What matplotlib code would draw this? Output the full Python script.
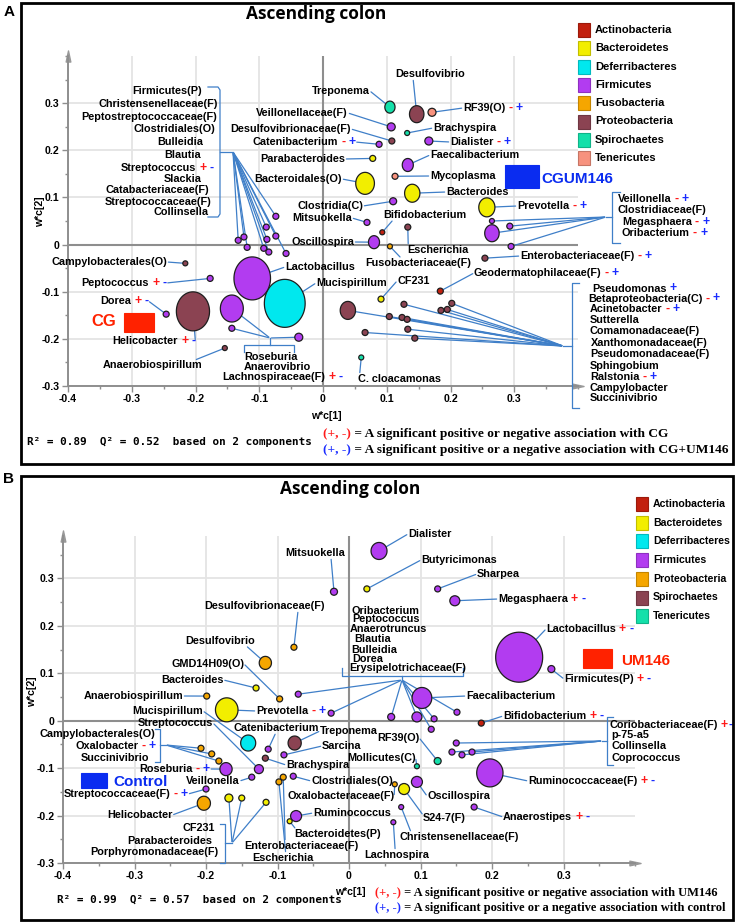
import numpy as np
import matplotlib
matplotlib.use('Agg')
import matplotlib.pyplot as plt
import matplotlib.colors as mcolors
from matplotlib.transforms import Affine2D
from matplotlib.patches import Rectangle
from matplotlib.path import Path
from matplotlib.ticker import MultipleLocator

plt.rcParams['font.family'] = ['Liberation Sans', 'DejaVu Sans']

# ====================== DATA : panel A ======================
A_phyla = ['Actinobacteria', 'Bacteroidetes', 'Deferribacteres', 'Firmicutes',
           'Fusobacteria', 'Proteobacteria', 'Spirochaetes', 'Tenericutes']
A_names = ['Treponema', 'Desulfovibrio', 'RF39(O)', 'Veillonellaceae(F)', 'Brachyspira',
           'Desulfovibrionaceae(F)', 'Catenibacterium', 'Dialister', 'Parabacteroides', 'Faecalibacterium',
           'Mycoplasma', 'Bacteroidales(O)', 'Bacteroides', 'Clostridia(C)', 'Mitsuokella',
           'Bifidobacterium', 'Oscillospira', 'Escherichia', 'Fusobacteriaceae(F)', 'CF231',
           'Prevotella', 'Veillonella', 'Clostridiaceae(F)', 'Megasphaera', 'Oribacterium',
           'Enterobacteriaceae(F)', 'Geodermatophilaceae(F)', 'Pseudomonas', 'Betaproteobacteria(C)', 'Acinetobacter',
           'Sutterella', 'Comamonadaceae(F)', 'Xanthomonadaceae(F)', 'Pseudomonadaceae(F)', 'Sphingobium',
           'Ralstonia', 'Campylobacter', 'Succinivibrio', 'C. cloacamonas', 'Lactobacillus',
           'Mucispirillum', 'Helicobacter', 'Roseburia', 'Anaerovibrio', 'Lachnospiraceae(F)',
           'Anaerobiospirillum', 'Dorea', 'Peptococcus', 'Campylobacterales(O)', 'Firmicutes(P)',
           'Christensenellaceae(F)', 'Peptostreptococcaceae(F)', 'Clostridiales(O)', 'Bulleidia', 'Blautia',
           'Streptococcus', 'Slackia', 'Catabacteriaceae(F)', 'Streptococcaceae(F)']
A_x = [0.105, 0.147, 0.171, 0.107, 0.132,
       0.108, 0.088, 0.166, 0.078, 0.133,
       0.113, 0.066, 0.140, 0.110, 0.069,
       0.093, 0.080, 0.133, 0.105, 0.091,
       0.257, 0.265, 0.293, 0.265, 0.295,
       0.254, 0.184, 0.202, 0.127, 0.195,
       0.185, 0.104, 0.124, 0.132, 0.039,
       0.133, 0.066, 0.144, 0.060, -0.111,
       -0.060, -0.204, -0.143, -0.143, -0.038,
       -0.154, -0.246, -0.177, -0.216, -0.074,
       -0.089, -0.133, -0.124, -0.119, -0.088,
       -0.074, -0.093, -0.085, -0.058]
A_y = [0.292, 0.277, 0.281, 0.250, 0.237,
       0.220, 0.213, 0.220, 0.183, 0.169,
       0.145, 0.130, 0.109, 0.092, 0.047,
       0.026, 0.005, 0.037, -0.004, -0.116,
       0.079, 0.050, 0.039, 0.024, -0.004,
       -0.029, -0.099, -0.125, -0.127, -0.138,
       -0.140, -0.153, -0.155, -0.159, -0.140,
       -0.180, -0.187, -0.199, -0.240, -0.072,
       -0.125, -0.142, -0.136, -0.178, -0.197,
       -0.220, -0.148, -0.072, -0.040, 0.060,
       0.037, 0.009, 0.016, -0.006, 0.011,
       0.018, -0.008, -0.016, -0.019]
A_bubble = [12, 17, 8, 8, 5,
            6, 6, 8, 6, 13,
            6, 22, 18, 7, 6,
            5, 13, 6, 5, 6,
            19, 5, 6, 17, 6,
            6, 6, 6, 6, 6,
            6, 6, 6, 6, 18,
            6, 6, 6, 5, 43,
            48, 39, 27, 6, 8,
            5, 6, 6, 5, 6,
            6, 6, 6, 6, 6,
            6, 6, 6, 6]
A_phylum = ['Spirochaetes', 'Proteobacteria', 'Tenericutes', 'Firmicutes', 'Spirochaetes',
            'Proteobacteria', 'Firmicutes', 'Firmicutes', 'Bacteroidetes', 'Firmicutes',
            'Tenericutes', 'Bacteroidetes', 'Bacteroidetes', 'Firmicutes', 'Firmicutes',
            'Actinobacteria', 'Firmicutes', 'Proteobacteria', 'Fusobacteria', 'Bacteroidetes',
            'Bacteroidetes', 'Firmicutes', 'Firmicutes', 'Firmicutes', 'Firmicutes',
            'Proteobacteria', 'Actinobacteria', 'Proteobacteria', 'Proteobacteria', 'Proteobacteria',
            'Proteobacteria', 'Proteobacteria', 'Proteobacteria', 'Proteobacteria', 'Proteobacteria',
            'Proteobacteria', 'Proteobacteria', 'Proteobacteria', 'Spirochaetes', 'Firmicutes',
            'Deferribacteres', 'Proteobacteria', 'Firmicutes', 'Firmicutes', 'Firmicutes',
            'Proteobacteria', 'Firmicutes', 'Firmicutes', 'Proteobacteria', 'Firmicutes',
            'Firmicutes', 'Firmicutes', 'Firmicutes', 'Firmicutes', 'Firmicutes',
            'Firmicutes', 'Firmicutes', 'Firmicutes', 'Firmicutes']
A_xticks = [-0.4, -0.3, -0.2, -0.1, 0.0, 0.1, 0.2, 0.3]
A_xticklabels = ['-0.4', '-0.3', '-0.2', '-0.1', '0', '0.1', '0.2', '0.3']
A_yticks = [-0.3, -0.2, -0.1, 0.0, 0.1, 0.2, 0.3]
A_yticklabels = ['-0.3', '-0.2', '-0.1', '0', '0.1', '0.2', '0.3']
A_stats = 'R² = 0.89  Q² = 0.52  based on 2 components'
A_note1 = ' = A significant positive or negative association with CG'
A_note2 = ' = A significant positive or a negative association with CG+UM146'

# ====================== DATA : panel B ======================
B_phyla = ['Actinobacteria', 'Bacteroidetes', 'Deferribacteres', 'Firmicutes',
           'Proteobacteria', 'Spirochaetes', 'Tenericutes']
B_names = ['Mitsuokella', 'Dialister', 'Butyricimonas', 'Sharpea', 'Megasphaera',
           'Desulfovibrionaceae(F)', 'Desulfovibrio', 'Lactobacillus', 'Firmicutes(P)', 'GMD14H09(O)',
           'Bacteroides', 'Anaerobiospirillum', 'Prevotella', 'Mucispirillum', 'Streptococcus',
           'Catenibacterium', 'Treponema', 'Campylobacterales(O)', 'Oxalobacter', 'Succinivibrio',
           'Sarcina', 'Brachyspira', 'Mollicutes(C)', 'RF39(O)', 'Roseburia',
           'Veillonella', 'Clostridiales(O)', 'Streptococcaceae(F)', 'Oxalobacteraceae(F)', 'Helicobacter',
           'Ruminococcus', 'Bacteroidetes(P)', 'CF231', 'Parabacteroides', 'Porphyromonadaceae(F)',
           'Enterobacteriaceae(F)', 'Escherichia', 'Lachnospira', 'Christensenellaceae(F)', 'S24-7(F)',
           'Oscillospira', 'Anaerostipes', 'Ruminococcaceae(F)', 'Faecalibacterium', 'Bifidobacterium',
           'Coriobacteriaceae(F)', 'p-75-a5', 'Collinsella', 'Coprococcus', 'Oribacterium',
           'Peptococcus', 'Anaerotruncus', 'Blautia', 'Bulleidia', 'Dorea',
           'Erysipelotrichaceae(F)']
B_x = [-0.021, 0.042, 0.025, 0.124, 0.148,
       -0.077, -0.117, 0.238, 0.283, -0.097,
       -0.130, -0.199, -0.171, -0.141, -0.126,
       -0.113, -0.076, -0.207, -0.192, -0.182,
       -0.091, -0.117, 0.095, 0.124, -0.172,
       -0.136, -0.078, -0.200, 0.064, -0.203,
       -0.074, -0.083, -0.168, -0.150, -0.116,
       -0.092, -0.098, 0.062, 0.073, 0.077,
       0.095, 0.175, 0.197, 0.102, 0.185,
       0.150, 0.144, 0.158, 0.172, -0.071,
       -0.025, 0.059, 0.095, 0.119, 0.115,
       0.151]
B_y = [0.272, 0.358, 0.278, 0.278, 0.253,
       0.155, 0.122, 0.134, 0.109, 0.046,
       0.069, 0.052, 0.023, -0.047, -0.102,
       -0.060, -0.047, -0.058, -0.070, -0.085,
       -0.072, -0.079, -0.096, -0.085, -0.102,
       -0.119, -0.117, -0.144, -0.134, -0.174,
       -0.201, -0.212, -0.163, -0.163, -0.172,
       -0.119, -0.129, -0.214, -0.182, -0.144,
       -0.129, -0.182, -0.110, 0.048, -0.005,
       -0.047, -0.066, -0.072, -0.066, 0.056,
       0.016, 0.008, 0.008, 0.004, -0.018,
       0.018]
B_bubble = [7, 17, 6, 6, 10,
            6, 13, 50, 7, 6,
            6, 6, 24, 16, 9,
            6, 14, 6, 6, 6,
            6, 6, 5, 7, 13,
            6, 6, 6, 5, 14,
            11, 5, 8, 6, 6,
            6, 6, 5, 5, 11,
            11, 6, 28, 21, 6,
            6, 6, 6, 6, 6,
            6, 7, 10, 6, 6,
            6]
B_phylum = ['Firmicutes', 'Firmicutes', 'Bacteroidetes', 'Firmicutes', 'Firmicutes',
            'Proteobacteria', 'Proteobacteria', 'Firmicutes', 'Firmicutes', 'Proteobacteria',
            'Bacteroidetes', 'Proteobacteria', 'Bacteroidetes', 'Deferribacteres', 'Firmicutes',
            'Firmicutes', 'Spirochaetes', 'Proteobacteria', 'Proteobacteria', 'Proteobacteria',
            'Firmicutes', 'Spirochaetes', 'Tenericutes', 'Tenericutes', 'Firmicutes',
            'Firmicutes', 'Firmicutes', 'Firmicutes', 'Proteobacteria', 'Proteobacteria',
            'Firmicutes', 'Bacteroidetes', 'Bacteroidetes', 'Bacteroidetes', 'Bacteroidetes',
            'Proteobacteria', 'Proteobacteria', 'Firmicutes', 'Firmicutes', 'Bacteroidetes',
            'Firmicutes', 'Firmicutes', 'Firmicutes', 'Firmicutes', 'Actinobacteria',
            'Firmicutes', 'Firmicutes', 'Firmicutes', 'Firmicutes', 'Firmicutes',
            'Firmicutes', 'Firmicutes', 'Firmicutes', 'Firmicutes', 'Firmicutes',
            'Firmicutes']
B_xticks = [-0.4, -0.3, -0.2, -0.1, 0.0, 0.1, 0.2, 0.3]
B_xticklabels = ['-0.4', '-0.3', '-0.2', '-0.1', '0', '0.1', '0.2', '0.3']
B_yticks = [-0.3, -0.2, -0.1, 0.0, 0.1, 0.2, 0.3]
B_yticklabels = ['-0.3', '-0.2', '-0.1', '0', '0.1', '0.2', '0.3']
B_stats = 'R² = 0.99  Q² = 0.57  based on 2 components'
B_note1 = ' = A significant positive or negative association with UM146'
B_note2 = ' = A significant positive or a negative association with control'

TITLE = 'Ascending colon'

# ====================== STYLE ======================
A_palette = {'Actinobacteria': '#C2200E', 'Bacteroidetes': '#F2EE00', 'Deferribacteres': '#00E8EE',
             'Firmicutes': '#B23CF0', 'Fusobacteria': '#F5A600', 'Proteobacteria': '#8B4352',
             'Spirochaetes': '#14E0AA', 'Tenericutes': '#F7927E'}
B_palette = {'Actinobacteria': '#C2200E', 'Bacteroidetes': '#F2EE00', 'Deferribacteres': '#00E8EE',
             'Firmicutes': '#B23CF0', 'Proteobacteria': '#F5A600', 'Spirochaetes': '#8B4352',
             'Tenericutes': '#14E0AA'}
LINE = '#3f7fc8'
GRID = '#e4e4e4'
AXC = '#8e8e8e'
RED = '#ff1a1a'
BLUE = '#1a2cff'
FS = 7.8

W, H = 737, 924
fig = plt.figure(figsize=(W / 100, H / 100), dpi=100)
PX = Affine2D().scale(1 / 100, -1 / 100).translate(0, H / 100) + fig.dpi_scale_trans

# ---------------- layout (label positions in reference pixels) ----------------
A_singles = [
    ('Treponema', 312, 91, 'left', '', 'r'),
    ('Desulfovibrio', 395, 74, 'left', '', (0.26, 0)),
    ('RF39(O)', 463, 108, 'left', '-+', 'l'),
    ('Veillonellaceae(F)', 348, 113, 'right', '', 'r'),
    ('Desulfovibrionaceae(F)', 351, 129, 'right', '', 'r'),
    ('Catenibacterium', 338, 142, 'right', '-+', 'r'),
    ('Brachyspira', 433, 128, 'left', '', 'l'),
    ('Dialister', 450, 142, 'left', '-+', 'l'),
    ('Parabacteroides', 345, 159, 'right', '', 'r'),
    ('Faecalibacterium', 430, 155, 'left', '', 'l'),
    ('Mycoplasma', 430, 176, 'left', '', 'l'),
    ('Bacteroidales(O)', 342, 179, 'right', '', 'r'),
    ('Bacteroides', 446, 192, 'left', '', 'l'),
    ('Prevotella', 517, 206, 'left', '-+', 'l'),
    ('Clostridia(C)', 363, 206, 'right', '', 'r'),
    ('Mitsuokella', 352, 218, 'right', '', 'r'),
    ('Bifidobacterium', 383, 215, 'left', '', (0.12, 0)),
    ('Oscillospira', 354, 242, 'right', '', 'r'),
    ('Escherichia', 407, 250, 'left', '', (0.02, 1)),
    ('Fusobacteriaceae(F)', 365, 263, 'left', '', (0.34, 1)),
    ('Lactobacillus', 285, 267, 'left', '', 'l'),
    ('Mucispirillum', 316, 283, 'left', '', 'l'),
    ('CF231', 397, 281, 'left', '', 'l'),
    ('Enterobacteriaceae(F)', 520, 256, 'left', '-+', 'l'),
    ('Geodermatophilaceae(F)', 474, 273, 'left', '-+', 'l'),
    ('Campylobacterales(O)', 167, 262, 'right', '', 'r'),
    ('Peptococcus', 149, 283, 'right', '+-', 'r'),
    ('Dorea', 131, 301, 'right', '+-', 'r'),
    ('Helicobacter', 178, 341, 'right', '+-', 'r'),
    ('Anaerobiospirillum', 202, 365, 'right', '', (0.93, 1)),
    ('C. cloacamonas', 358, 379, 'left', '', (0.02, 1)),
]
A_groups = [
    dict(labels=[('Firmicutes(P)', 202, 91, 'right', ''),
                 ('Christensenellaceae(F)', 218, 104, 'right', ''),
                 ('Peptostreptococcaceae(F)', 217, 117, 'right', ''),
                 ('Clostridiales(O)', 215, 129, 'right', ''),
                 ('Bulleidia', 203, 142, 'right', ''),
                 ('Blautia', 201, 155, 'right', ''),
                 ('Streptococcus', 196, 168, 'right', '+-'),
                 ('Slackia', 202, 179, 'right', ''),
                 ('Catabacteriaceae(F)', 209, 190, 'right', ''),
                 ('Streptococcaceae(F)', 211, 202, 'right', ''),
                 ('Collinsella', 209, 212, 'right', '')],
         bracket=[[(208, 87), (218, 87), (220, 90), (220, 152), (220, 214), (218, 217), (208, 217)],
                  [(220, 152), (233, 152)]],
         hub=(233, 152),
         members=['Firmicutes(P)', 'Christensenellaceae(F)', 'Peptostreptococcaceae(F)', 'Clostridiales(O)',
                  'Bulleidia', 'Blautia', 'Streptococcus', 'Slackia', 'Catabacteriaceae(F)',
                  'Streptococcaceae(F)']),
    dict(labels=[('Roseburia', 271, 357, 'center', ''),
                 ('Anaerovibrio', 277, 367, 'center', ''),
                 ('Lachnospiraceae(F)', 274, 377, 'center', '+-')],
         bracket=[[(244, 352), (244, 345), (294, 345), (294, 352)], [(270, 345), (270, 338)]],
         hub=(270, 338),
         members=['Roseburia', 'Anaerovibrio', 'Lachnospiraceae(F)']),
    dict(labels=[('Veillonella', 618, 199, 'left', '-+'),
                 ('Clostridiaceae(F)', 618, 210, 'left', ''),
                 ('Megasphaera', 622, 222, 'left', '-+'),
                 ('Oribacterium', 622, 233, 'left', '-+')],
         bracket=[[(620, 192), (612, 192), (612, 243), (620, 243)], [(612, 217), (606, 217)]],
         hub=(606, 217),
         members=['Veillonella', 'Clostridiaceae(F)', 'Megasphaera', 'Oribacterium']),
    dict(labels=[('Pseudomonas', 592, 288.5, 'left', ' +'),
                 ('Betaproteobacteria(C)', 588, 298.5, 'left', '-+'),
                 ('Acinetobacter', 590, 309, 'left', '-+'),
                 ('Sutterella', 590, 320, 'left', ''),
                 ('Comamonadaceae(F)', 590, 331, 'left', ''),
                 ('Xanthomonadaceae(F)', 591, 343, 'left', ''),
                 ('Pseudomonadaceae(F)', 590, 354, 'left', ''),
                 ('Sphingobium', 590, 366, 'left', ''),
                 ('Ralstonia', 590, 377, 'left', '-+'),
                 ('Campylobacter', 590, 388, 'left', ''),
                 ('Succinivibrio', 590, 398, 'left', '')],
         bracket=[[(579, 283), (572, 283), (572, 408), (579, 408)], [(572, 346), (563, 346)]],
         hub=(563, 346),
         members=['Pseudomonas', 'Betaproteobacteria(C)', 'Acinetobacter', 'Sutterella', 'Comamonadaceae(F)',
                  'Xanthomonadaceae(F)', 'Pseudomonadaceae(F)', 'Sphingobium', 'Ralstonia',
                  'Campylobacter', 'Succinivibrio']),
]

B_singles = [
    ('Mitsuokella', 285, 553, 'left', '', (0.77, 0)),
    ('Dialister', 408, 534, 'left', '', 'l'),
    ('Butyricimonas', 421, 560, 'left', '', 'l'),
    ('Sharpea', 477, 574, 'left', '', 'l'),
    ('Megasphaera', 498, 599, 'left', '+-', 'l'),
    ('Desulfovibrionaceae(F)', 204, 606, 'left', '', (0.78, 0)),
    ('Desulfovibrio', 185, 641, 'left', '', (0.88, 0)),
    ('GMD14H09(O)', 171, 664, 'left', '', 'r'),
    ('Bacteroides', 161, 680, 'left', '', 'r'),
    ('Anaerobiospirillum', 183, 696, 'right', '', 'r'),
    ('Mucispirillum', 203, 711, 'right', '', 'r'),
    ('Prevotella', 256, 711, 'left', '-+', 'l'),
    ('Streptococcus', 213, 723, 'right', '', 'r'),
    ('Catenibacterium', 233, 728, 'left', '', (0.5, 0)),
    ('Treponema', 320, 731, 'left', '', 'l'),
    ('Sarcina', 322, 746, 'left', '', 'l'),
    ('Brachyspira', 286, 765, 'left', '', 'l'),
    ('Mollicutes(C)', 347, 758, 'left', '', 'r'),
    ('RF39(O)', 377, 738, 'left', '', 'r'),
    ('Roseburia', 139, 769, 'left', '-+', 'r'),
    ('Veillonella', 186, 781, 'left', '', 'r'),
    ('Clostridiales(O)', 311, 781, 'left', '', 'l'),
    ('Streptococcaceae(F)', 64, 794, 'left', '-+', 'r'),
    ('Oxalobacteraceae(F)', 287, 796, 'left', '', 'r'),
    ('Helicobacter', 107, 815, 'left', '', 'r'),
    ('Ruminococcus', 313, 813, 'left', '', 'l'),
    ('Bacteroidetes(P)', 294, 834, 'left', '', (0.02, 1)),
    ('Enterobacteriaceae(F)', 244, 846, 'left', '', (0.36, 1)),
    ('Escherichia', 252, 858, 'left', '', (0.55, 1)),
    ('Lachnospira', 364, 855, 'left', '', (0.48, 1)),
    ('Christensenellaceae(F)', 399, 837, 'left', '', (0.1, 1)),
    ('S24-7(F)', 423, 818, 'left', '', (0.0, 0.8)),
    ('Oscillospira', 427, 796, 'left', '', 'l'),
    ('Anaerostipes', 503, 817, 'left', '+-', 'l'),
    ('Ruminococcaceae(F)', 528, 781, 'left', '+-', 'l'),
    ('Faecalibacterium', 466, 696, 'left', '', 'l'),
    ('Bifidobacterium', 503, 716, 'left', '+-', 'l'),
    ('Lactobacillus', 546, 629, 'left', '+-', 'l'),
    ('Firmicutes(P)', 564, 679, 'left', '+-', 'l'),
]
B_groups = [
    dict(labels=[('Campylobacterales(O)', 155, 734, 'right', ''),
                 ('Oxalobacter', 138, 746, 'right', '-+'),
                 ('Succinivibrio', 149, 758, 'right', '')],
         bracket=[[(155, 729), (160, 729), (160, 762), (155, 762)], [(160, 745), (166, 745)]],
         hub=(166, 745),
         members=['Campylobacterales(O)', 'Oxalobacter', 'Succinivibrio']),
    dict(labels=[('CF231', 215, 828, 'right', ''),
                 ('Parabacteroides', 212, 841, 'right', ''),
                 ('Porphyromonadaceae(F)', 218, 852, 'right', '')],
         bracket=[[(220, 824), (225, 824), (225, 863), (220, 863)], [(225, 843), (232, 843)]],
         hub=(232, 843),
         members=['CF231', 'Parabacteroides', 'Porphyromonadaceae(F)']),
    dict(labels=[('Oribacterium', 352, 610.5, 'left', ''),
                 ('Peptococcus', 352, 619.5, 'left', ''),
                 ('Anaerotruncus', 350, 629, 'left', ''),
                 ('Blautia', 354, 639, 'left', ''),
                 ('Bulleidia', 351, 650, 'left', ''),
                 ('Dorea', 352, 659, 'left', ''),
                 ('Erysipelotrichaceae(F)', 349, 668, 'left', '')],
         bracket=[[(342, 668), (342, 676), (463, 676), (463, 668)], [(402, 676), (402, 680)]],
         hub=(402, 680),
         members=['Oribacterium', 'Peptococcus', 'Anaerotruncus', 'Blautia', 'Bulleidia', 'Dorea',
                  'Erysipelotrichaceae(F)']),
    dict(labels=[('Coriobacteriaceae(F)', 610, 725, 'left', '+-'),
                 ('p-75-a5', 611, 735, 'left', ''),
                 ('Collinsella', 611, 746, 'left', ''),
                 ('Coprococcus', 611, 758, 'left', '')],
         bracket=[[(613, 717), (607, 717), (607, 765), (613, 765)], [(607, 741), (602, 741)]],
         hub=(602, 741),
         members=['Coriobacteriaceae(F)', 'p-75-a5', 'Collinsella', 'Coprococcus'],
         gap=1.2),
]


# ====================== helpers ======================
def draw_label(ax, text, px, py, ha, marks, fs=FS, gap=2.2):
    t = ax.annotate(text, xy=(px, py), xycoords=PX, ha=ha, va='center', fontsize=fs,
                    fontweight='bold', annotation_clip=False, zorder=7)
    last = t
    for ch, col in zip(marks, (RED, BLUE)):
        if ch == ' ':
            continue
        last = ax.annotate(ch, xy=(1, 0.5), xycoords=last, xytext=(gap, 0), textcoords='offset points',
                           ha='left', va='center', fontsize=fs + 1, fontweight='bold', color=col,
                           annotation_clip=False, zorder=7)
    return t, last


def leader(ax, start, startcoords, x, y):
    ax.annotate('', xy=(x, y), xycoords='data', xytext=start, textcoords=startcoords,
                arrowprops=dict(arrowstyle='-', color=LINE, lw=0.9, shrinkA=1, shrinkB=0), zorder=3)


def make_axes(px_box, xlim, ylim, xt, xtl, yt, ytl):
    x0, x1, ytop, ybot = px_box
    ax = fig.add_axes([x0 / W, 1 - ybot / H, (x1 - x0) / W, (ybot - ytop) / H])
    ax.set_facecolor('none')
    ax.set_xlim(*xlim)
    ax.set_ylim(*ylim)
    for s in ('top', 'right'):
        ax.spines[s].set_visible(False)
    for s in ('left', 'bottom'):
        ax.spines[s].set_color(AXC)
        ax.spines[s].set_linewidth(1.4)
    ax.set_xticks(xt)
    ax.set_xticklabels(xtl, fontsize=7.6, fontweight='bold')
    ax.set_yticks(yt)
    ax.set_yticklabels(ytl, fontsize=7.6, fontweight='bold')
    ax.xaxis.set_minor_locator(MultipleLocator(0.05))
    ax.yaxis.set_minor_locator(MultipleLocator(0.05))
    ax.tick_params(which='both', color=AXC, direction='out')
    ax.tick_params(which='major', length=4, width=1, pad=2)
    ax.tick_params(which='minor', length=2.5, width=1)
    ax.grid(True, which='major', color=GRID, lw=1.3)
    ax.set_axisbelow(True)
    ax.axhline(0, color=AXC, lw=1.5, zorder=1)
    ax.axvline(0, color=AXC, lw=1.5, zorder=1)
    arr_r = Path([(-1, -0.42), (1, 0), (-1, 0.42), (-1, -0.42)], closed=True)
    arr_u = Path([(-0.42, -1), (0, 1), (0.42, -1), (-0.42, -1)], closed=True)
    ax.plot([1], [0], marker=arr_r, ms=8, color='#999999', transform=ax.transAxes, clip_on=False, zorder=2)
    ax.plot([0], [1], marker=arr_u, ms=8, color='#999999', transform=ax.transAxes, clip_on=False, zorder=2)
    return ax


def draw_points(ax, names, xs, ys, bubble, phylum, palette, aspect):
    xs = np.asarray(xs); ys = np.asarray(ys); bubble = np.asarray(bubble, float)
    cols = np.array([palette[p] for p in phylum])
    big = bubble >= 12
    th = np.linspace(0, 2 * np.pi, 72)
    ell = Path(np.column_stack([aspect * np.cos(th), np.sin(th)]), closed=True)
    order = np.argsort(-bubble[big])
    ax.scatter(xs[big][order], ys[big][order], s=(bubble[big][order] * 0.72) ** 2, marker=ell,
               c=cols[big][order], edgecolors='#1e1e1e', linewidths=0.9, zorder=5)
    ax.scatter(xs[~big], ys[~big], s=(bubble[~big] * 0.72) ** 2, marker='o',
               c=cols[~big], edgecolors='#1e1e1e', linewidths=0.9, zorder=6)
    return {n: (x, y) for n, x, y in zip(names, xs, ys)}


def annotate_panel(ax, pos, singles, groups):
    for name, px, py, ha, marks, att in singles:
        t, last = draw_label(ax, name, px, py, ha, marks)
        x, y = pos[name]
        if att == 'l':
            leader(ax, (0, 0.5), t, x, y)
        elif att == 'r':
            leader(ax, (1, 0.5), last, x, y)
        else:
            leader(ax, att, t, x, y)
    for g in groups:
        for name, px, py, ha, marks in g['labels']:
            draw_label(ax, name, px, py, ha, marks, gap=g.get('gap', 2.2))
        for poly in g['bracket']:
            bx, by = zip(*poly)
            ax.plot(bx, by, transform=PX, color=LINE, lw=0.9, clip_on=False, zorder=3)
        for m in g['members']:
            x, y = pos[m]
            leader(ax, g['hub'], PX, x, y)


def draw_legend(phyla, palette, sx, y0, dy, tx, fs):
    for i, p in enumerate(phyla):
        yc = y0 + i * dy
        edge = tuple(np.array(mcolors.to_rgb(palette[p])) * 0.8)
        fig.add_artist(Rectangle((sx, yc - 7), 12, 14, transform=PX, facecolor=palette[p],
                                 edgecolor=edge, lw=0.8))
        fig.text(tx, yc, p, transform=PX, ha='left', va='center', fontsize=fs, fontweight='bold')


def notes(ax, px, py1, py2, n1, n2, fs):
    for py, col, rest in ((py1, RED, n1), (py2, BLUE, n2)):
        t = ax.annotate('(+, -)', xy=(px, py), xycoords=PX, ha='left', va='center', color=col,
                        family='Liberation Serif', fontweight='bold', fontsize=fs, annotation_clip=False)
        ax.annotate(rest, xy=(1, 0.5), xycoords=t, ha='left', va='center', color='black',
                    family='Liberation Serif', fontweight='bold', fontsize=fs, annotation_clip=False)


def tag(rect, color, text, tx, ty, ha, fs):
    x0, y0, x1, y1 = rect
    fig.add_artist(Rectangle((x0, y0), x1 - x0, y1 - y0, transform=PX, facecolor=color,
                             edgecolor=color, lw=0.8))
    fig.text(tx, ty, text, transform=PX, ha=ha, va='center', color=color, fontsize=fs, fontweight='bold')


# ====================== panel boxes ======================
fig.add_artist(Rectangle((21, 3), 712, 461, transform=PX, fill=False, lw=2, edgecolor='black'))
fig.add_artist(Rectangle((21, 476), 712, 444, transform=PX, fill=False, lw=2, edgecolor='black'))
fig.text(9, 12, 'A', transform=PX, ha='center', va='center', fontsize=11, fontweight='bold')
fig.text(9, 479, 'B', transform=PX, ha='center', va='center', fontsize=11, fontweight='bold')

# ====================== panel A ======================
axA = make_axes((68, 578, 56.3, 385.7), (-0.4, 0.4), (-0.3, 0.4),
                A_xticks, A_xticklabels, A_yticks, A_yticklabels)
posA = draw_points(axA, A_names, A_x, A_y, A_bubble, A_phylum, A_palette, 0.85)
annotate_panel(axA, posA, A_singles, A_groups)
draw_legend(A_phyla, A_palette, 578, 30, 18.3, 595, 8)
fig.text(316, 14, TITLE, transform=PX, ha='center', va='center', family='Open Sans',
         fontweight='bold', fontsize=12.5)
fig.text(326, 416, 'w*c[1]', transform=PX, ha='center', va='center', fontsize=7.6, fontweight='bold')
fig.text(40, 212, 'w*c[2]', transform=PX, ha='center', va='center', fontsize=7.6, fontweight='bold',
         rotation=90)
fig.text(27, 442, A_stats, transform=PX, ha='left', va='center', family='DejaVu Sans Mono',
         fontsize=7.9, fontweight='bold')
notes(axA, 323, 434, 450, A_note1, A_note2, 9.6)
tag((124, 313, 154, 332), '#ff2200', 'CG', 116, 322, 'right', 12)
tag((505, 165, 539, 188), '#0a2cf0', 'CGUM146', 541, 179, 'left', 11)

# ====================== panel B ======================
axB = make_axes((63, 635, 535.8, 863), (-0.4, 0.4), (-0.3, 0.39),
                B_xticks, B_xticklabels, B_yticks, B_yticklabels)
posB = draw_points(axB, B_names, B_x, B_y, B_bubble, B_phylum, B_palette, 0.94)
annotate_panel(axB, posB, B_singles, B_groups)
draw_legend(B_phyla, B_palette, 636, 504, 18.7, 653, 7.6)
fig.text(350, 489, TITLE, transform=PX, ha='center', va='center', family='Open Sans',
         fontweight='bold', fontsize=12.5)
fig.text(350, 892, 'w*c[1]', transform=PX, ha='center', va='center', fontsize=7.6, fontweight='bold')
fig.text(32, 692, 'w*c[2]', transform=PX, ha='center', va='center', fontsize=7.6, fontweight='bold',
         rotation=90)
fig.text(57, 900, B_stats, transform=PX, ha='left', va='center', family='DejaVu Sans Mono',
         fontsize=7.9, fontweight='bold')
notes(axB, 375, 893, 908, B_note1, B_note2, 9.0)
tag((583, 649, 612, 668), '#ff2200', 'UM146', 621, 661, 'left', 11)
tag((81, 773, 107, 788), '#0a2cf0', 'Control', 113, 782, 'left', 11)

fig.savefig('out.png', dpi=100)
